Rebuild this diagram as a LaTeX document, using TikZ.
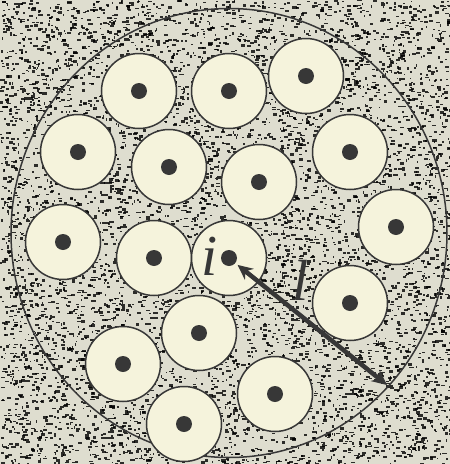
\documentclass[tikz,border=0pt]{standalone}
\usepackage{fontspec}
\setmainfont{Liberation Serif}
\usetikzlibrary{arrows.meta, shapes.geometric}
\definecolor{paper}{RGB}{222,221,207}
\definecolor{cream}{RGB}{245,243,220}
\definecolor{ink}{RGB}{55,55,55}
\tikzset{
  cell/.style={circle,minimum size=75pt,inner sep=0pt,fill=cream,draw=ink,line width=1.5pt,
    path picture={\fill[ink] (path picture bounding box.center) circle (8pt);}},
  speck/.style={fill=black,opacity=0.8},
  arr/.style={{Stealth[length=15pt,width=14pt]}-{Stealth[length=15pt,width=14pt]},
    line width=4.5pt,draw=ink},
  sym/.style={font=\fontsize{58}{58}\selectfont\itshape,text=ink}
}

\begin{document}
\begin{tikzpicture}[x=1pt,y=-1pt]

  \useasboundingbox (0,0) rectangle (450,464);
  \fill[paper] (0,0) rectangle (450,464);

  % grainy background
  \begin{scope}
    \clip (0,0) rectangle (450,464);
    \pgfmathsetseed{42}
    \foreach \k in {1,...,7500}
      \fill[speck] ({450*rnd},{464*rnd}) rectangle ++({1+3.5*rnd},{1+1.8*rnd});
  \end{scope}

  % container
  \node[ellipse,draw=ink,line width=1.5pt,inner sep=0pt,
    minimum width=436pt,minimum height=449pt] (outer) at (229,233) {};

  % particles
  \foreach \x/\y [count=\n] in {139/91, 229/91, 306/76, 78/152, 169/167, 259/182,
      350/152, 63/242, 154/258, 229/258, 396/227, 350/303, 199/333, 123/364,
      275/394, 184/424}
    \node[cell] (c\n) at (\x,\y) {};

  % distance to the wall
  \coordinate (rim) at (387,385);
  \draw[arr,shorten <=11pt] (c10.center) -- (rim);

  \node[sym] (isym) at (210,256) {i};
  \node[sym] (lsym) at (301,280) {l};

\end{tikzpicture}
\end{document}
